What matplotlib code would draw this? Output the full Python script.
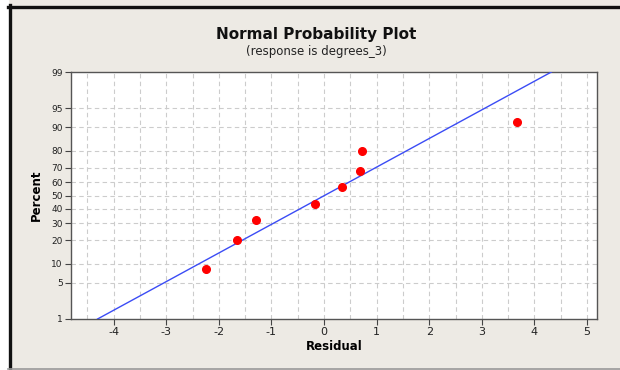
import matplotlib
matplotlib.use("Agg")
import matplotlib.pyplot as plt
from matplotlib.lines import Line2D
import numpy as np
from statistics import NormalDist

# residuals, with their plotted percentiles
residuals = [-2.25, -1.65, -1.29, -0.17, 0.34, 0.69, 0.73, 3.67]
percents = [8.3, 20.2, 32.1, 44.0, 56.0, 67.9, 79.8, 91.7]

y_ticks = [1, 5, 10, 20, 30, 40, 50, 60, 70, 80, 90, 95, 99]
x_ticks = [-4, -3, -2, -1, 0, 1, 2, 3, 4, 5]

bg = "#edeae4"
nd = NormalDist()

_ppf = np.vectorize(lambda v: nd.inv_cdf(v / 100.0), otypes=[float])
_cdf = np.vectorize(lambda v: nd.cdf(v) * 100.0, otypes=[float])


def fwd(p):
    p = np.clip(np.asarray(p, dtype=float), 1e-6, 100 - 1e-6)
    return _ppf(p)


def inv(z):
    return _cdf(np.asarray(z, dtype=float))


fig = plt.figure(figsize=(6.2, 3.7), dpi=100, facecolor=bg)
ax = fig.add_axes([71 / 620, 1 - 319 / 370, (597 - 71) / 620, (319 - 72) / 370])
ax.set_facecolor("white")
ax.set_yscale("function", functions=(fwd, inv))

# fitted normal line from the residuals
mu = np.mean(residuals)
sd = np.std(residuals, ddof=1)
line_p = np.array([1.0, 99.0])
line_x = [NormalDist(mu, sd).inv_cdf(p / 100) for p in line_p]
ax.plot(line_x, line_p, color="#3b4cf5", lw=1.0, zorder=3)

ax.plot(residuals, percents, "o", color="#ff0000", ms=5.5, mec="#ff0000", zorder=4)

ax.set_xlim(-4.81, 5.19)
ax.set_ylim(1, 99)
ax.set_yticks(y_ticks)
ax.set_yticklabels([str(t) for t in y_ticks], fontsize=6.5, color="#222222")
ax.set_xticks(x_ticks)
ax.set_xticklabels([str(t) for t in x_ticks], fontsize=8, color="#222222")
ax.yaxis.set_minor_locator(matplotlib.ticker.NullLocator())
ax.set_xticks(np.arange(-4.5, 5.1, 1.0), minor=True)
ax.tick_params(axis="x", which="minor", length=0)
ax.tick_params(axis="both", which="major", length=4, width=0.8, color="#444444", pad=2)

for t in y_ticks[1:-1]:
    ax.axhline(t, color="#cccccc", lw=0.8, ls=(0, (4, 3)), zorder=1)
for v in np.arange(-4.5, 5.1, 0.5):
    ax.axvline(v, color="#cccccc", lw=0.8, ls=(0, (4, 3)), zorder=1)

for s in ax.spines.values():
    s.set_color("#555555")
    s.set_linewidth(1.0)

ax.set_xlabel("Residual", fontsize=8.5, fontweight="bold", labelpad=2)
ax.set_ylabel("Percent", fontsize=8.5, fontweight="bold", labelpad=6)

fig.text(0.51, 1 - 35 / 370, "Normal Probability Plot", ha="center", va="center",
         fontsize=11, fontweight="bold", color="#111111")
fig.text(0.51, 1 - 52 / 370, "(response is degrees_3)", ha="center", va="center",
         fontsize=8.5, color="#222222")

# window frame
fig.add_artist(Line2D([9.5 / 620, 9.5 / 620], [0, 1 - 5 / 370], transform=fig.transFigure,
                      color="#111111", lw=2.4))
fig.add_artist(Line2D([8 / 620, 1], [1 - 6.5 / 370, 1 - 6.5 / 370], transform=fig.transFigure,
                      color="#111111", lw=2.4))
fig.add_artist(Line2D([8 / 620, 1], [1.5 / 370, 1.5 / 370], transform=fig.transFigure,
                      color="#999999", lw=1.2))
fig.patches.append(plt.Rectangle((0, 0), 8 / 620, 1, transform=fig.transFigure,
                                 color="white", zorder=-1))

fig.savefig("out.png", dpi=100, facecolor=bg)
